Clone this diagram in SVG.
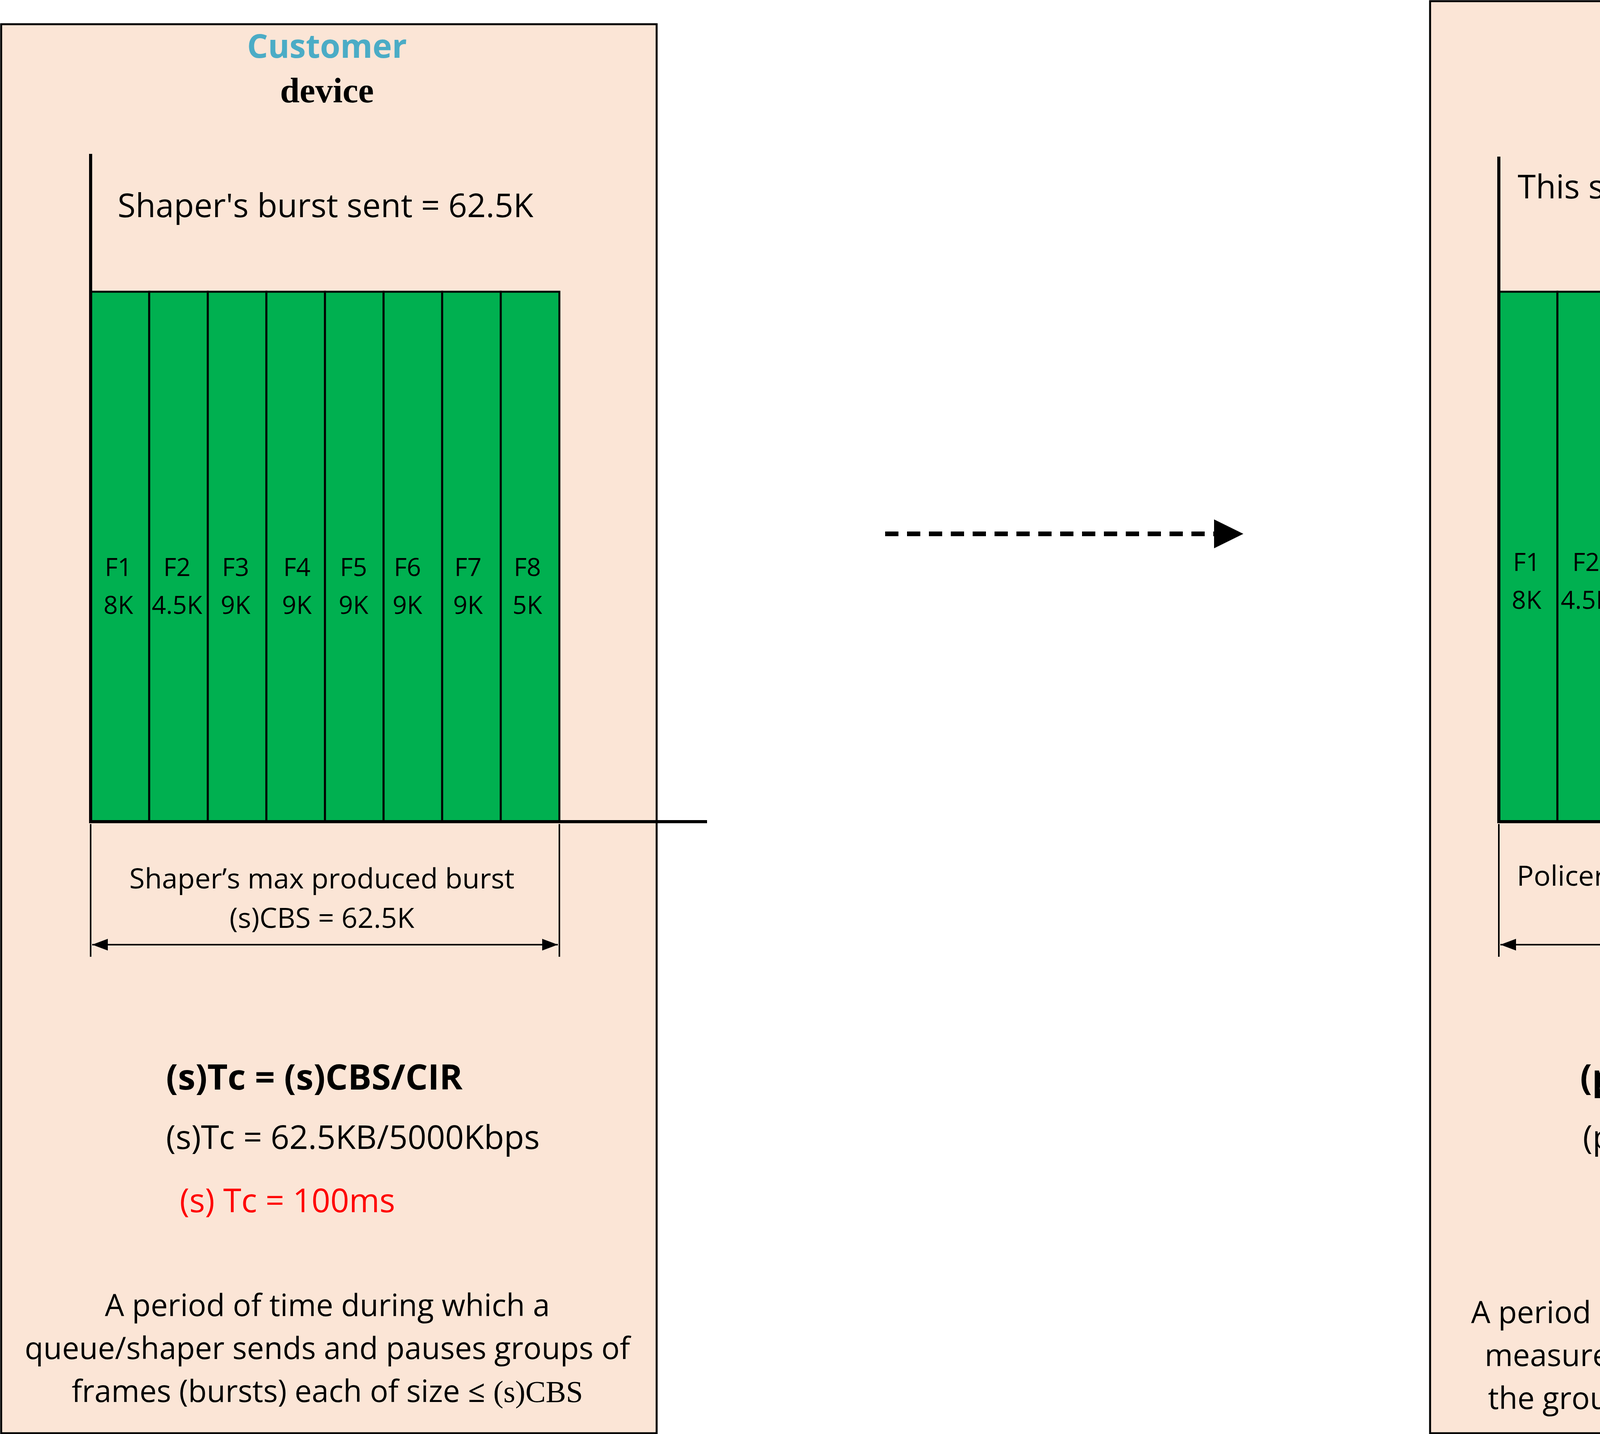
<svg xmlns="http://www.w3.org/2000/svg" width="5418" height="3672" viewBox="0 0 5418 3672">
<style>
.box{fill:#fbe5d6;stroke:#000;stroke-width:5}
.ax{stroke:#000;stroke-width:8;fill:none}
.g{fill:#00b050;stroke:#000;stroke-width:5}
.r{fill:#ff0000;stroke:#000;stroke-width:5}
.t{font-family:"Open Sans","Liberation Sans",sans-serif;fill:#000}
.ttl{font-family:"Open Sans","Liberation Sans",sans-serif;font-weight:bold;fill:#4bacc6;font-size:84px;text-anchor:middle}
.dev{font-family:"Liberation Serif",serif;font-weight:bold;font-size:90px;text-anchor:middle}
.f{font-family:"Open Sans","Liberation Sans",sans-serif;font-size:64px;text-anchor:middle}
.dim{stroke:#000;stroke-width:4;fill:none}
</style>
<defs>
<marker id="ah" viewBox="0 0 10 10" refX="10" refY="5" markerWidth="10" markerHeight="10" markerUnits="userSpaceOnUse" orient="auto-start-reverse"><path d="M0,0L10,5L0,10z" fill="#000"/></marker>
<marker id="ad" viewBox="0 0 10 10" refX="10" refY="5" markerWidth="8" markerHeight="8" orient="auto"><path d="M0,0L10,5L0,10z" fill="#000"/></marker>
<marker id="as" viewBox="0 0 10 10" refX="10" refY="5" markerWidth="40" markerHeight="30" markerUnits="userSpaceOnUse" orient="auto-start-reverse" preserveAspectRatio="none"><path d="M0,0L10,5L0,10z" fill="#000"/></marker>
</defs>
<g id="customer">
<rect class="box" x="3" y="62" width="1678" height="3608"/>
<text class="ttl" x="837" y="148">Customer</text>
<text class="dev" x="837" y="262">device</text>
<g>
<rect class="g" x="232" y="747" width="150" height="1357"/>
<rect class="g" x="382" y="747" width="150" height="1357"/>
<rect class="g" x="532" y="747" width="150" height="1357"/>
<rect class="g" x="682" y="747" width="150" height="1357"/>
<rect class="g" x="832" y="747" width="150" height="1357"/>
<rect class="g" x="982" y="747" width="150" height="1357"/>
<rect class="g" x="1132" y="747" width="150" height="1357"/>
<rect class="g" x="1282" y="747" width="150" height="1357"/>
</g>
<path class="ax" d="M232,394V2104H1810"/>
<g class="f">
<text x="303" y="1475">F1</text><text x="303" y="1572">8K</text>
<text x="453" y="1475">F2</text><text x="453" y="1572">4.5K</text>
<text x="603" y="1475">F3</text><text x="603" y="1572">9K</text>
<text x="760" y="1475">F4</text><text x="760" y="1572">9K</text>
<text x="905" y="1475">F5</text><text x="905" y="1572">9K</text>
<text x="1043" y="1475">F6</text><text x="1043" y="1572">9K</text>
<text x="1198" y="1475">F7</text><text x="1198" y="1572">9K</text>
<text x="1350" y="1475">F8</text><text x="1350" y="1572">5K</text>
</g>
<text class="t" x="301" y="556" font-size="84">Shaper's burst sent = 62.5K</text>
<path class="dim" d="M232,2110V2450M1432,2110V2450"/>
<path class="dim" d="M236,2419H1428" marker-start="url(#as)" marker-end="url(#as)"/>
<text class="t" x="824" y="2275" font-size="72" text-anchor="middle">Shaper’s max produced burst</text>
<text class="t" x="824" y="2376" font-size="72" text-anchor="middle">(s)CBS = 62.5K</text>
<text class="t" x="425" y="2790" font-size="90" font-weight="bold">(s)Tc = (s)CBS/CIR</text>
<text class="t" x="425" y="2942" font-size="84">(s)Tc = 62.5KB/5000Kbps</text>
<text class="t" x="460" y="3104" font-size="84" fill="#ff0000" style="fill:#ff0000">(s) Tc = 100ms</text>
<g class="t" font-size="78" text-anchor="middle">
<text x="838" y="3370">A period of time during which a</text>
<text x="838" y="3480">queue/shaper sends and pauses groups of</text>
<text x="838" y="3590">frames (bursts) each of size ≤ <tspan font-family="Liberation Serif,serif">(s)CBS</tspan></text>
</g>
</g>
<g id="provider">
<rect class="box" x="3661" y="3" width="1678" height="3667"/>
<text class="ttl" x="4494" y="88">Provider</text>
<text class="dev" x="4494" y="206">device</text>
<g>
<rect class="g" x="3837" y="747" width="150" height="1357"/>
<rect class="g" x="3987" y="747" width="150" height="1357"/>
<rect class="g" x="4137" y="747" width="150" height="1357"/>
<rect class="g" x="4287" y="747" width="150" height="1357"/>
<rect class="g" x="4437" y="747" width="150" height="1357"/>
<rect class="g" x="4587" y="747" width="150" height="1357"/>
<rect class="g" x="4737" y="747" width="150" height="1357"/>
<rect class="r" x="4887" y="747" width="150" height="1357"/>
</g>
<path class="ax" d="M3837,401V2104H5415"/>
<g class="f">
<text x="3908" y="1462">F1</text><text x="3908" y="1559">8K</text>
<text x="4060" y="1462">F2</text><text x="4060" y="1559">4.5K</text>
<text x="4208" y="1462">F3</text><text x="4208" y="1559">9K</text>
<text x="4365" y="1462">F4</text><text x="4365" y="1559">9K</text>
<text x="4508" y="1462">F5</text><text x="4508" y="1559">9K</text>
<text x="4648" y="1462">F6</text><text x="4648" y="1559">9K</text>
<text x="4803" y="1462">F7</text><text x="4803" y="1559">9K</text>
<text x="4955" y="1462">F8</text><text x="4955" y="1559">5K</text>
</g>
<text class="t" x="4470" y="508" font-size="84" text-anchor="middle">This same burst arrived at the</text>
<text class="t" x="4470" y="630" font-size="84" text-anchor="middle">policer = 62.5K</text>
<path class="dim" d="M3837,2110V2450M4885,2110V2450"/>
<path class="dim" d="M3841,2419H4881" marker-start="url(#as)" marker-end="url(#as)"/>
<text class="t" x="4356" y="2268" font-size="72" text-anchor="middle">Policers’s max allowed burst</text>
<text class="t" x="4356" y="2369" font-size="72" text-anchor="middle">(p)CBS = 57.5K</text>
<text class="t" x="4045" y="2790" font-size="90" font-weight="bold">(p)Tc = (p)CBS/CIR</text>
<text class="t" x="4052" y="2942" font-size="84">(p)Tc = 57.5KB/5000Kbps</text>
<text class="t" x="4093" y="3104" font-size="84" style="fill:#ff0000">(p) Tc = 92ms</text>
<g class="t" font-size="78" text-anchor="middle">
<text x="4500" y="3388">A period of time during which a provider</text>
<text x="4500" y="3498">measures whether the received size of</text>
<text x="4500" y="3608">the group of frames (burst) is ≤ (p)CBS</text>
</g>
</g>
<g id="connectors">
<path d="M2266,1367H3110" stroke="#000" stroke-width="12" stroke-dasharray="34,22" fill="none"/>
<path d="M3108,1330L3183,1367L3108,1404z" fill="#000"/>
</g>
</svg>
